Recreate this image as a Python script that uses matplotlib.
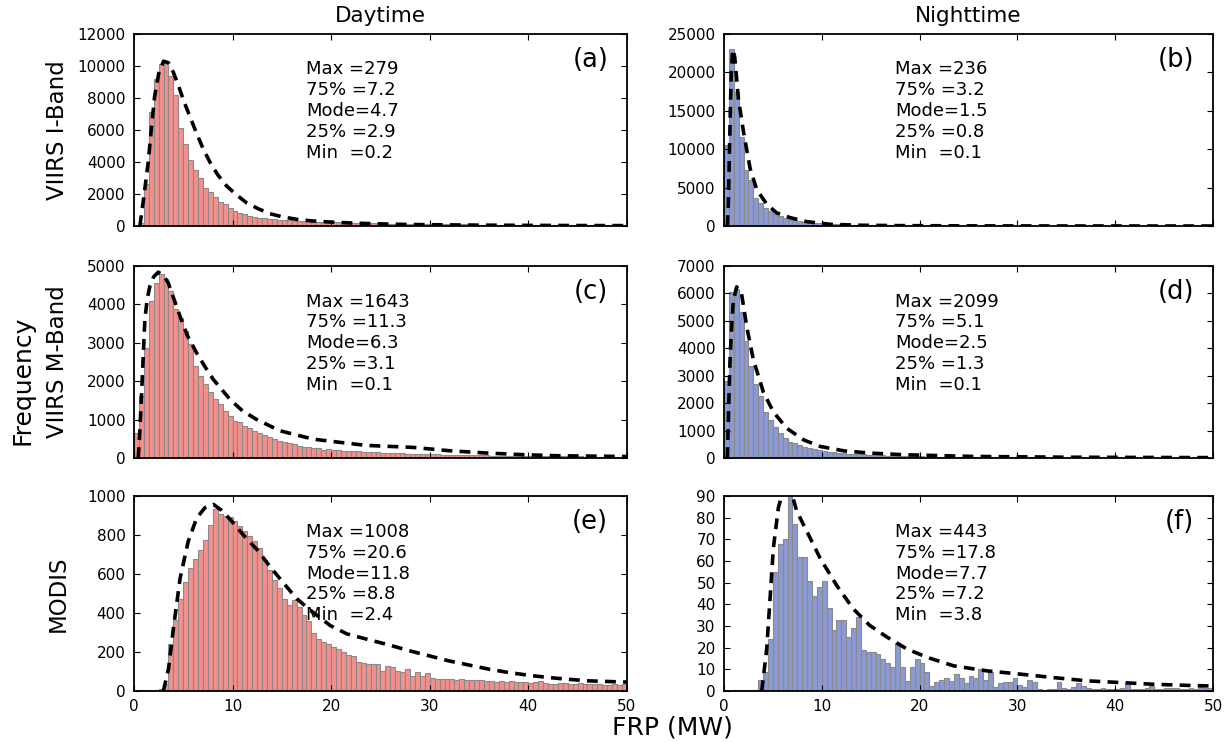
import numpy as np
import matplotlib
matplotlib.use("Agg")
import matplotlib.pyplot as plt

# histogram counts, 0.5 MW bins from 0 to 50 MW
day_iband = [30, 200, 2600, 7100, 9200, 10100, 10200, 9400, 8200, 6100,
             5100, 4100, 3500, 3000, 2400, 2100, 1800, 1500, 1350, 1100,
             940, 830, 730, 640, 580, 520, 480, 450, 420, 400,
             370, 350, 335, 318, 300, 292, 278, 266, 250, 242,
             232, 221, 214, 205, 197, 188, 182, 174, 170, 163,
             160, 154, 151, 144, 140, 136, 131, 127, 125, 119,
             118, 114, 112, 108, 106, 101, 100, 97, 95, 93,
             90, 88, 87, 83, 82, 80, 79, 76, 75, 72,
             72, 70, 69, 68, 66, 65, 63, 62, 61, 60,
             58, 58, 56, 55, 54, 53, 52, 51, 50, 50]
night_iband = [10500, 23000, 17400, 11600, 7300, 6000, 3700, 3000, 2400, 1900,
               1500, 1300, 1080, 860, 730, 650, 560, 480, 430, 380,
               340, 300, 270, 240, 215, 195, 175, 160, 145, 130,
               120, 110, 100, 92, 85, 78, 72, 66, 60, 56,
               52, 48, 44, 41, 38, 35, 33, 31, 29, 27,
               25, 24, 22, 21, 20, 19, 18, 17, 16, 15,
               14, 14, 13, 12, 12, 11, 11, 10, 10, 9,
               9, 9, 8, 8, 8, 7, 7, 7, 6, 6,
               6, 6, 6, 5, 5, 5, 5, 5, 4, 4,
               4, 4, 4, 4, 3, 3, 3, 3, 3, 3]
day_mband = [650, 1620, 2870, 4090, 4560, 4780, 4650, 4350, 3870, 3650,
             3300, 2960, 2400, 2140, 1920, 1710, 1530, 1400, 1230, 1100,
             970, 930, 840, 770, 710, 650, 600, 540, 490, 450,
             420, 390, 360, 320, 300, 280, 250, 250, 220, 230,
             215, 205, 195, 190, 180, 175, 170, 160, 150, 148,
             140, 135, 130, 125, 120, 118, 112, 108, 105, 100,
             97, 94, 90, 88, 85, 82, 80, 78, 75, 72,
             70, 68, 66, 64, 62, 60, 58, 57, 55, 54,
             52, 51, 50, 48, 47, 46, 45, 44, 43, 42,
             41, 40, 39, 38, 38, 37, 36, 35, 35, 34]
night_mband = [2810, 6050, 6150, 5320, 4250, 3350, 2690, 2270, 1670, 1380,
               1140, 900, 720, 600, 540, 480, 420, 360, 320, 300,
               260, 235, 215, 195, 180, 165, 150, 140, 130, 120,
               112, 104, 97, 90, 85, 80, 75, 70, 66, 62,
               58, 55, 52, 50, 47, 45, 43, 41, 39, 37,
               35, 34, 32, 31, 30, 29, 28, 27, 26, 25,
               24, 23, 22, 21, 21, 20, 19, 19, 18, 18,
               17, 17, 16, 16, 15, 15, 14, 14, 14, 13,
               13, 13, 12, 12, 12, 11, 11, 11, 10, 10,
               10, 10, 9, 9, 9, 9, 8, 8, 8, 8]
day_modis = [3, 4, 4, 5, 5, 8, 35, 240, 365, 474,
             560, 630, 678, 724, 776, 850, 931, 908, 897, 891,
             870, 845, 819, 793, 770, 733, 672, 621, 569, 529,
             470, 440, 465, 430, 390, 360, 300, 265, 250, 240,
             225, 215, 200, 185, 182, 150, 145, 140, 138, 138,
             103, 129, 121, 103, 95, 112, 78, 98, 78, 91,
             69, 64, 62, 60, 62, 58, 60, 57, 55, 58,
             55, 53, 50, 48, 52, 46, 50, 45, 48, 44,
             42, 45, 50, 40, 35, 38, 40, 42, 36, 38,
             40, 38, 35, 36, 37, 33, 30, 35, 32, 38]
night_modis = [0.3, 0.3, 0.3, 0.3, 0.3, 0.5, 0.5, 5.0, 8.9, 24,
               55, 68, 70, 90, 77, 62, 62, 51, 44, 48,
               51, 38.5, 28, 33, 33, 25, 29, 34, 19, 18,
               18, 17, 15, 13, 11, 22, 11, 4.7, 11, 15,
               13, 9, 2.3, 4.2, 5.1, 6.2, 4.7, 7.8, 6.2, 3.5,
               7, 6, 10, 5, 9, 2, 3.5, 4, 4, 6,
               3, 2, 5, 4, 1, 0.3, 0.8, 0.8, 4, 1.4,
               1, 2, 3.5, 2.3, 1.5, 1, 0.8, 1.4, 0.8, 0.8,
               1, 1.5, 3.5, 0.8, 1, 1, 1.4, 2.3, 1, 1,
               1.5, 1.5, 1.4, 0.8, 0.8, 1.5, 1, 1.7, 1.4, 1.2]

# fitted distribution curves (FRP, frequency)
fit_a_x = [0.6, 1.0, 1.45, 1.8, 2.1, 2.5, 3.0, 3.5, 4.0, 4.5, 5.0, 5.7, 6.35, 7.0, 7.7,
           8.5, 9.4, 10.4, 11.4, 12.6, 13.8, 15.0, 16.5, 18.0, 19.9, 22.0, 23.9, 27, 30,
           35, 40, 45, 50]
fit_a_y = [0, 1800, 4000, 6300, 8100, 9500, 10300, 10200, 9600, 8800, 7900, 6800, 5800,
           4850, 4000, 3200, 2500, 1950, 1460, 1080, 770, 580, 420, 320, 250, 190, 150,
           105, 80, 55, 40, 30, 25]
fit_b_x = [0.35, 0.45, 0.55, 0.65, 0.75, 0.9, 1.1, 1.47, 1.99, 2.67, 3.36, 4.4, 5.4, 6.8,
           8.5, 10.9, 14, 18, 25, 35, 50]
fit_b_y = [0, 3000, 9000, 15000, 20000, 23000, 22000, 16600, 12300, 7500, 4700, 2800,
           1700, 1080, 560, 220, 100, 50, 20, 8, 3]
fit_c_x = [0.44, 0.6, 0.78, 0.95, 1.11, 1.35, 1.62, 2.0, 2.47, 3.0, 3.48, 4.0, 4.66, 5.4,
           6.35, 7.2, 8.04, 9.73, 11.0, 12.4, 14.8, 18.2, 23.5, 28.3, 32.0, 35.8, 39.5,
           42.9, 50]
fit_c_y = [0, 700, 1700, 2700, 3610, 4150, 4480, 4720, 4840, 4750, 4560, 4180, 3700, 3200,
           2740, 2380, 2050, 1530, 1230, 1010, 710, 490, 330, 277, 190, 130, 87, 60, 40]
fit_d_x = [0.34, 0.48, 0.62, 0.8, 0.96, 1.3, 1.8, 2.33, 3.0, 4.04, 5.07, 6.44, 8.15, 9.86,
           12.3, 15, 18.4, 25.3, 35, 50]
fit_d_y = [0, 1800, 3590, 4900, 5740, 6240, 5980, 4780, 3590, 2390, 1670, 1080, 660, 420,
           260, 180, 120, 60, 30, 15]
fit_e_x = [2.98, 3.5, 4.0, 4.68, 5.5, 6.37, 7.2, 8.07, 8.9, 9.76, 11.1, 12.5, 13.8, 15.2,
           16.5, 17.9, 19.9, 21.6, 23.9, 25.9, 27.9, 29.9, 31.9, 34, 36, 38, 40, 42.1,
           44.1, 46.2, 49.2, 50]
fit_e_y = [0, 112, 320, 578, 767, 888, 940, 957, 926, 880, 800, 724, 638, 552, 474, 414,
           336, 293, 262, 236, 207, 181, 155, 133, 112, 95, 81, 69, 60, 52, 47, 46]
fit_f_x = [3.86, 4.37, 4.71, 5.05, 5.56, 5.9, 6.5, 7.0, 7.44, 8.46, 9.83, 11.5, 13.2, 14.9,
           16.7, 18.7, 20.8, 23.5, 26.9, 30.3, 33.7, 37.1, 40.6, 44, 47.4, 50]
fit_f_y = [0, 19.4, 42.7, 66, 84.6, 90, 93, 90, 83, 73.8, 61.3, 48.9, 38, 30.3, 24.8,
           19.4, 15.5, 11.6, 9.3, 7.8, 6.2, 4.7, 3.9, 3.1, 2.6, 2.3]

stats = {
    "a": ["Max =279", "75% =7.2", "Mode=4.7", "25% =2.9", "Min  =0.2"],
    "b": ["Max =236", "75% =3.2", "Mode=1.5", "25% =0.8", "Min  =0.1"],
    "c": ["Max =1643", "75% =11.3", "Mode=6.3", "25% =3.1", "Min  =0.1"],
    "d": ["Max =2099", "75% =5.1", "Mode=2.5", "25% =1.3", "Min  =0.1"],
    "e": ["Max =1008", "75% =20.6", "Mode=11.8", "25% =8.8", "Min  =2.4"],
    "f": ["Max =443", "75% =17.8", "Mode=7.7", "25% =7.2", "Min  =3.8"],
}
row_labels = ["VIIRS I-Band", "VIIRS M-Band", "MODIS"]
col_titles = ["Daytime", "Nighttime"]

panels = [
    ("a", day_iband, fit_a_x, fit_a_y, 12000, 2000),
    ("b", night_iband, fit_b_x, fit_b_y, 25000, 5000),
    ("c", day_mband, fit_c_x, fit_c_y, 5000, 1000),
    ("d", night_mband, fit_d_x, fit_d_y, 7000, 1000),
    ("e", day_modis, fit_e_x, fit_e_y, 1000, 200),
    ("f", night_modis, fit_f_x, fit_f_y, 90, 10),
]

plt.rcParams.update({
    "font.family": "DejaVu Sans",
    "xtick.direction": "in", "ytick.direction": "in",
    "xtick.top": True, "ytick.right": True,
    "xtick.major.size": 4, "ytick.major.size": 4,
    "xtick.labelsize": 11, "ytick.labelsize": 11,
    "axes.linewidth": 1.3,
})

edges = np.arange(0, 50.5, 0.5)
fig = plt.figure(figsize=(12.3, 7.42), dpi=100)

lefts = [0.1089, 0.5886]
widths = [0.4008, 0.3976]
bottoms = [0.6954, 0.3827, 0.0687]
heights = [0.2588, 0.2588, 0.2628]
colors = ["#f3908c", "#8b99d4"]

for i, (tag, counts, fx, fy, ymax, ystep) in enumerate(panels):
    row, col = divmod(i, 2)
    ax = fig.add_axes([lefts[col], bottoms[row], widths[col], heights[row]])
    ax.bar(edges[:-1], counts, width=0.5, align="edge", color=colors[col],
           edgecolor="#8a8a8a", linewidth=0.8)
    ax.plot(fx, fy, color="black", linestyle=(0, (3, 2)), linewidth=2.6)
    ax.set_xlim(0, 50)
    ax.set_ylim(0, ymax)
    ax.set_xticks(np.arange(0, 51, 10))
    ax.set_yticks(np.arange(0, ymax + 1, ystep))
    ax.tick_params(axis="y", pad=6)
    ax.tick_params(axis="x", pad=6)
    if row < 2:
        ax.set_xticklabels([])
    ax.text(0.35, 0.862, "\n".join(stats[tag]), transform=ax.transAxes,
            fontsize=13, va="top", ha="left", linespacing=1.2)
    ax.text(0.962, 0.865, f"({tag})", transform=ax.transAxes,
            fontsize=18.5, va="center", ha="right")

for col, title in enumerate(col_titles):
    fig.text(lefts[col] + widths[col] / 2, 0.978, title, fontsize=15.5,
             ha="center", va="center")

row_centers = [b + h / 2 for b, h in zip(bottoms, heights)]
for r, lab in enumerate(row_labels):
    fig.text(0.047, row_centers[r], lab, rotation=90, fontsize=16.5,
             ha="center", va="center")

fig.text(0.018, 0.487, "Frequency", rotation=90, fontsize=18, ha="center", va="center")
fig.text(0.547, 0.02, "FRP (MW)", fontsize=18, ha="center", va="center")

fig.savefig("out.png", dpi=100)
